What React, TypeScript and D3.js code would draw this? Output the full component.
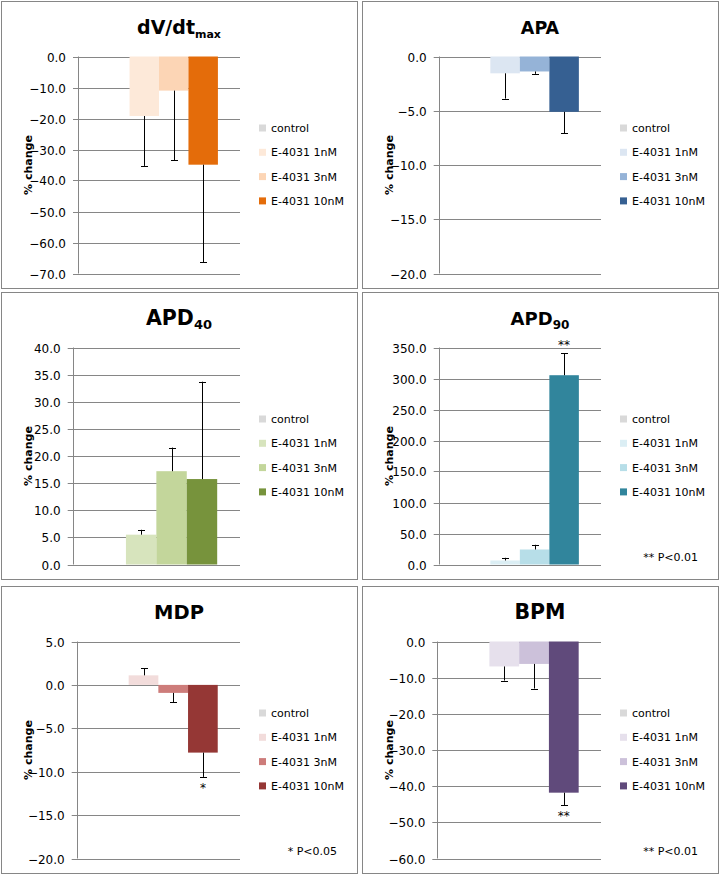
import * as d3 from "d3";

// series / categories
const categories = ["control", "E-4031 1nM", "E-4031 3nM", "E-4031 10nM"];

const titles = ["dV/dt", "APA", "APD", "APD", "MDP", "BPM"];
const titleSubs = ["max", "", "40", "90", "", ""];

const dvdtValues = [0, -19.2, -11.0, -34.9];
const dvdtErrors = [0, 16.1, 22.5, 31.5];
const apaValues = [0, -1.55, -1.38, -5.1];
const apaErrors = [0, 2.33, 0.22, 1.97];
const apd40Values = [0, 5.5, 17.2, 15.75];
const apd40Errors = [0, 0.9, 4.35, 17.95];
const apd90Values = [0, 6.5, 24.2, 305.3];
const apd90Errors = [0, 4.3, 7.6, 35.6];
const mdpValues = [0, 1.1, -0.92, -7.8];
const mdpErrors = [0, 0.84, 1.1, 2.8];
const bpmValues = [0, -6.9, -6.2, -41.8];
const bpmErrors = [0, 3.9, 6.8, 3.4];

const yDomains: [number, number][] = [[-70, 0], [-20, 0], [0, 40], [0, 350], [-20, 5], [-60, 0]];
const yTickSteps = [10, 5, 5, 50, 5, 10];

// significance marks per bar (index into categories)
const sigMarks = [
  ["", "", "", ""],
  ["", "", "", ""],
  ["", "", "", ""],
  ["", "", "", "**"],
  ["", "", "", "*"],
  ["", "", "", "**"],
];
const footnotes = ["", "", "", "** P<0.01", "* P<0.05", "** P<0.01"];

const allValues = [dvdtValues, apaValues, apd40Values, apd90Values, mdpValues, bpmValues];
const allErrors = [dvdtErrors, apaErrors, apd40Errors, apd90Errors, mdpErrors, bpmErrors];

// styles / layout
const palettes = [
  ["#d9d9d9", "#fde9d9", "#fcd5b5", "#e46c0a"],
  ["#d9d9d9", "#dce6f2", "#95b3d7", "#366092"],
  ["#d9d9d9", "#d7e4bd", "#c3d69b", "#77933c"],
  ["#d9d9d9", "#dbeef4", "#b7dee8", "#31859c"],
  ["#d9d9d9", "#f2dcdb", "#cd7c7a", "#953735"],
  ["#d9d9d9", "#e6e0ec", "#ccc1da", "#604a7b"],
];
const panelPos = [[1, 1], [362, 1], [1, 292], [362, 292], [1, 586], [362, 586]];
const plotLefts = [77, 76.7, 71.7, 76.7, 75.7, 75.3];
const titleSizes = [19, 17.5, 20.5, 18, 19.5, 20.5];
const subSizes = [11, 0, 13, 12, 0, 0];

const PW = 356;
const PH = 287;
const PLOT_RIGHT = 239;
const PLOT_TOP = 55.5;
const PLOT_BOTTOM = 272.5;
const GRID = "#868686";
const FONT = "DejaVu Sans, Verdana, sans-serif";

function Panel({ i }: { i: number }) {
  const [px, py] = panelPos[i];
  const values = allValues[i];
  const errors = allErrors[i];
  const colors = palettes[i];
  const [lo, hi] = yDomains[i];

  const x = d3.scaleBand<string>()
    .domain(categories)
    .range([plotLefts[i], PLOT_RIGHT])
    .paddingInner(0)
    .paddingOuter(0.75);

  const y = d3.scaleLinear().domain([lo, hi]).range([PLOT_BOTTOM, PLOT_TOP]);
  const ticks = d3.range(lo, hi + yTickSteps[i] / 2, yTickSteps[i]);
  const left = plotLefts[i];

  return (
    <g transform={`translate(${px},${py})`}>
      <rect x={0.5} y={0.5} width={PW} height={PH} fill="#fff" stroke={GRID} />

      {/* title */}
      <text x={178} y={33} textAnchor="middle" fontSize={titleSizes[i]} fontWeight="bold" fontFamily={FONT}>
        {titles[i]}
        {titleSubs[i] && <tspan fontSize={subSizes[i]} dy={4}>{titleSubs[i]}</tspan>}
      </text>

      {/* grid + y ticks */}
      {ticks.map(t => (
        <g key={t} transform={`translate(0,${Math.round(y(t)) + 0.5})`}>
          <line x1={left - 5} x2={PLOT_RIGHT} stroke={GRID} />
          <text x={left - 12} dy="0.36em" textAnchor="end" fontSize={12} fontFamily={FONT}>
            {d3.format(".1f")(t)}
          </text>
        </g>
      ))}
      <line x1={Math.round(left) + 0.5} x2={Math.round(left) + 0.5} y1={y(hi)} y2={y(lo)} stroke={GRID} />

      {/* y label */}
      <text transform={`translate(31,${(PLOT_TOP + PLOT_BOTTOM) / 2}) rotate(-90)`} textAnchor="middle"
        fontSize={11} fontWeight="bold" fontFamily={FONT}>% change</text>

      {/* bars */}
      {categories.map((c, k) => {
        const v = values[k];
        const bx = x(c) ?? 0;
        const y0 = y(0);
        const yv = y(v);
        return (
          <rect key={c} x={bx} width={x.bandwidth()} y={Math.min(y0, yv)} height={Math.abs(y0 - yv)} fill={colors[k]} />
        );
      })}

      {/* error bars */}
      {categories.map((c, k) => {
        const v = values[k];
        const e = errors[k];
        if (!e) return null;
        const cx = Math.round((x(c) ?? 0) + x.bandwidth() / 2) + 0.5;
        const end = v >= 0 ? v + e : v - e;
        return (
          <g key={c} stroke="#000">
            <line x1={cx} x2={cx} y1={y(v)} y2={y(end)} />
            <line x1={cx - 3.5} x2={cx + 3.5} y1={Math.round(y(end)) + 0.5} y2={Math.round(y(end)) + 0.5} />
          </g>
        );
      })}

      {/* significance */}
      {categories.map((c, k) => {
        const m = sigMarks[i][k];
        if (!m) return null;
        const v = values[k];
        const end = v >= 0 ? v + errors[k] : v - errors[k];
        const cx = (x(c) ?? 0) + x.bandwidth() / 2;
        const ty = v >= 0 ? y(end) - 4 : y(end) + 15.5;
        return (
          <text key={c} x={cx} y={ty} textAnchor="middle" fontSize={12} fontFamily={FONT}>{m}</text>
        );
      })}

      {/* legend */}
      {categories.map((c, k) => (
        <g key={c} transform={`translate(258,${127 + k * 24.3})`}>
          <rect x={0} y={-3.5} width={7} height={7} fill={colors[k]} />
          <text x={12} dy="0.36em" fontSize={11} fontFamily={FONT}>{c}</text>
        </g>
      ))}

      {footnotes[i] && (
        <text x={336} y={269} textAnchor="end" fontSize={11} fontFamily={FONT}>{footnotes[i]}</text>
      )}
    </g>
  );
}

export default function App() {
  return (
    <svg width={720} height={875} style={{ position: "absolute", left: 0, top: 0, background: "#fff" }}>
      {titles.map((_, i) => <Panel key={i} i={i} />)}
    </svg>
  );
}
